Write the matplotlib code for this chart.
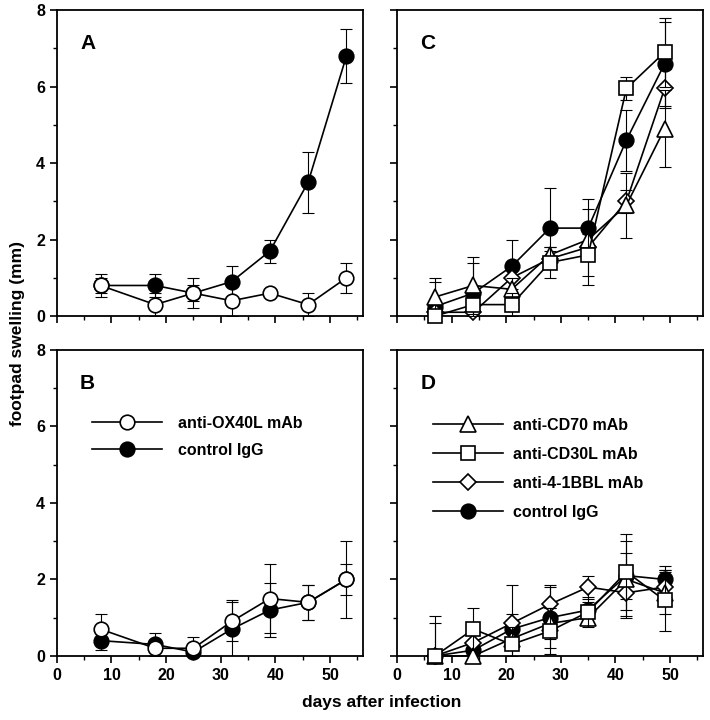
import matplotlib
matplotlib.use("Agg")
import matplotlib.pyplot as plt
from matplotlib.ticker import MultipleLocator

plt.rcParams["font.family"] = ["Liberation Sans", "DejaVu Sans"]
plt.rcParams["font.weight"] = "bold"

# days after infection
days_ab = [8, 18, 25, 32, 39, 46, 53]
days_cd = [7, 14, 21, 28, 35, 42, 49]

# panel A
a_ox40l = [0.8, 0.3, 0.6, 0.4, 0.6, 0.3, 1.0]
a_ox40l_err = [0.3, 0.3, 0.4, 0.4, 0.1, 0.3, 0.4]
a_igg = [0.8, 0.8, 0.6, 0.9, 1.7, 3.5, 6.8]
a_igg_err = [0.2, 0.3, 0.2, 0.4, 0.3, 0.8, 0.7]

# panel B
b_ox40l = [0.7, 0.2, 0.2, 0.9, 1.5, 1.4, 2.0]
b_ox40l_err = [0.4, 0.2, 0.3, 0.5, 0.9, 0.45, 1.0]
b_igg = [0.4, 0.3, 0.1, 0.7, 1.2, 1.4, 2.0]
b_igg_err = [0.25, 0.3, 0.2, 0.75, 0.7, 0.45, 0.4]

# panel C
c_cd70 = [0.5, 0.8, 0.7, 1.6, 2.0, 2.9, 4.9]
c_cd70_err = [0.5, 0.75, 0.3, 0.2, 0.3, 0.85, 1.0]
c_cd30l = [0.0, 0.3, 0.3, 1.4, 1.6, 5.95, 6.9]
c_cd30l_err = [0.1, 0.3, 0.3, 0.4, 0.55, 0.3, 0.9]
c_41bbl = [0.1, 0.1, 1.0, 1.5, 1.8, 3.0, 5.95]
c_41bbl_err = [0.1, 0.1, 0.3, 0.2, 1.0, 0.3, 0.5]
c_igg = [0.25, 0.6, 1.3, 2.3, 2.3, 4.6, 6.6]
c_igg_err = [0.65, 0.8, 0.7, 1.05, 0.75, 0.8, 1.1]

# panel D
d_cd70 = [0.0, 0.0, 0.45, 0.85, 1.0, 2.0, 1.65]
d_cd70_err = [0.85, 0.1, 0.3, 0.4, 0.2, 1.0, 0.55]
d_cd30l = [0.0, 0.7, 0.3, 0.65, 1.15, 2.2, 1.45]
d_cd30l_err = [1.05, 0.55, 0.3, 0.6, 0.4, 1.0, 0.8]
d_41bbl = [0.0, 0.35, 0.85, 1.35, 1.8, 1.65, 1.8]
d_41bbl_err = [0.1, 0.2, 1.0, 0.5, 0.3, 0.6, 0.45]
d_igg = [0.0, 0.15, 0.7, 1.0, 1.2, 2.1, 2.0]
d_igg_err = [0.1, 0.2, 0.4, 0.8, 0.2, 0.6, 0.35]

fig = plt.figure(figsize=(7.1, 7.2), dpi=100)
w, h = 0.431, 0.425
axA = fig.add_axes([0.080, 0.561, w, h])
axC = fig.add_axes([0.559, 0.561, w, h])
axB = fig.add_axes([0.080, 0.089, w, h])
axD = fig.add_axes([0.559, 0.089, w, h])


def series(ax, x, y, err, marker, face, label, ms=10.5, z=3):
    ax.errorbar(x, y, yerr=err, fmt="none", ecolor="black", elinewidth=0.8,
                capsize=4, capthick=0.8, zorder=z - 0.5)
    ax.plot(x, y, color="black", linewidth=1.2, marker=marker, markersize=ms,
            markerfacecolor=face, markeredgecolor="black", markeredgewidth=1.2,
            label=label, zorder=z, clip_on=False)


def style(ax, letter, show_x, show_y):
    ax.set_xlim(0, 56)
    ax.set_ylim(0, 8)
    ax.xaxis.set_major_locator(MultipleLocator(10))
    ax.xaxis.set_minor_locator(MultipleLocator(5))
    ax.yaxis.set_major_locator(MultipleLocator(2))
    ax.yaxis.set_minor_locator(MultipleLocator(1))
    ax.tick_params(which="major", direction="out", length=5, width=1.2,
                   labelsize=11.5, top=False, right=False)
    ax.tick_params(which="minor", direction="out", length=3, width=1.0,
                   top=False, right=False)
    ax.tick_params(labelbottom=show_x, labelleft=show_y)
    for s in ax.spines.values():
        s.set_linewidth(1.3)
    for lab in ax.get_xticklabels() + ax.get_yticklabels():
        lab.set_fontweight("bold")
    ax.text(0.076, 0.89, letter, transform=ax.transAxes, fontsize=15,
            fontweight="bold", va="center", ha="left")


series(axA, days_ab, a_igg, a_igg_err, "o", "black", "control IgG", z=3)
series(axA, days_ab, a_ox40l, a_ox40l_err, "o", "white", "anti-OX40L mAb", z=4)
style(axA, "A", False, True)

series(axB, days_ab, b_igg, b_igg_err, "o", "black", "control IgG", z=3)
series(axB, days_ab, b_ox40l, b_ox40l_err, "o", "white", "anti-OX40L mAb", z=4)
style(axB, "B", True, True)
hB, lB = axB.get_legend_handles_labels()
axB.legend(hB[::-1], lB[::-1], loc="upper left", bbox_to_anchor=(0.114, 0.784),
           frameon=False, handlelength=4.4, handletextpad=1.0,
           labelspacing=0.73, borderaxespad=0, borderpad=0,
           prop={"weight": "bold", "size": 11.5})

series(axC, days_cd, c_igg, c_igg_err, "o", "black", "control IgG", z=3)
series(axC, days_cd, c_41bbl, c_41bbl_err, "D", "white", "anti-4-1BBL mAb", ms=8, z=4)
series(axC, days_cd, c_cd70, c_cd70_err, "^", "white", "anti-CD70 mAb", ms=11.5, z=5)
series(axC, days_cd, c_cd30l, c_cd30l_err, "s", "white", "anti-CD30L mAb", ms=10.5, z=6)
style(axC, "C", False, False)

series(axD, days_cd, d_igg, d_igg_err, "o", "black", "control IgG", z=3)
series(axD, days_cd, d_41bbl, d_41bbl_err, "D", "white", "anti-4-1BBL mAb", ms=8, z=4)
series(axD, days_cd, d_cd70, d_cd70_err, "^", "white", "anti-CD70 mAb", ms=11.5, z=5)
series(axD, days_cd, d_cd30l, d_cd30l_err, "s", "white", "anti-CD30L mAb", ms=10.5, z=6)
style(axD, "D", True, False)
hD, lD = axD.get_legend_handles_labels()
order = [2, 3, 1, 0]
axD.legend([hD[i] for i in order], [lD[i] for i in order], loc="upper left",
           bbox_to_anchor=(0.118, 0.778), frameon=False, handlelength=4.4,
           handletextpad=0.64, labelspacing=0.88, borderaxespad=0, borderpad=0,
           prop={"weight": "bold", "size": 11.5})

fig.text(0.025, 0.5375, "footpad swelling (mm)", rotation=90, ha="center",
         va="center", fontsize=12.5, fontweight="bold")
fig.text(0.538, 0.024, "days after infection", ha="center", va="center",
         fontsize=12.5, fontweight="bold")

fig.savefig("out.png", dpi=100)
